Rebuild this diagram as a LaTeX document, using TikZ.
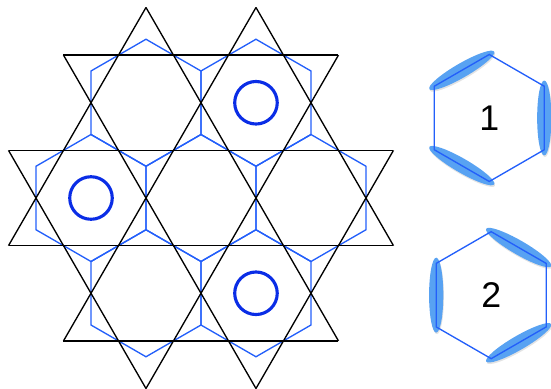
\documentclass[tikz,border=0pt]{standalone}
\usepackage{fontspec}
\setsansfont{Liberation Sans}
\definecolor{hexBlue}{RGB}{35,95,250}
\definecolor{ringBlue}{RGB}{10,45,230}
\definecolor{lobeBlue}{RGB}{88,162,242}
\usetikzlibrary{shadows}

\begin{document}
\begin{tikzpicture}[
    kagome/.style={draw=black, line width=0.6pt},
    hexEdge/.style={draw=hexBlue, line width=0.6pt, line join=miter},
    ring/.style={draw=ringBlue, line width=1.4pt},
    lobe/.style={fill=lobeBlue, draw=none,
                 drop shadow={opacity=0.22, shadow xshift=0.3pt, shadow yshift=-0.7pt}},
    numLabel/.style={font=\sffamily\fontsize{16}{16}\selectfont, inner sep=0pt}
  ]
  \useasboundingbox (-3.165,-2.992) rectangle (5.512,3.118);

  % honeycomb of blue hexagons
  \foreach \cx/\cy in {0/0, 1.732/0, -1.732/0, 0.866/1.5, -0.866/1.5, 0.866/-1.5, -0.866/-1.5}
    \draw[hexEdge, shift={(\cx,\cy)}] (90:1) -- (150:1) -- (210:1) -- (270:1) -- (330:1) -- (30:1) -- cycle;

  % kagome lines, three directions
  \foreach \a in {0,60,120}
    \foreach \d/\h in {0.75/3.031, -0.75/3.031, 2.25/2.165, -2.25/2.165}
      \draw[kagome, rotate=\a] (-\h,\d) -- (\h,\d);

  % rings
  \draw[ring] (0.866,1.5) circle (0.335);
  \draw[ring] (-1.732,0) circle (0.335);
  \draw[ring] (0.866,-1.5) circle (0.335);

  % the two single hexagons
  \coordinate (hexOne) at (4.54,1.26);
  \coordinate (hexTwo) at (4.57,-1.53);

  \begin{scope}[shift={(hexOne)}]
    \foreach \m in {0,120,240}
      \fill[lobe, rotate=\m] (0.866,0) ellipse (0.112 and 0.59);
    \draw[hexEdge] (90:1) -- (150:1) -- (210:1) -- (270:1) -- (330:1) -- (30:1) -- cycle;
  \end{scope}
  \node[numLabel] (one) at (hexOne) {1};

  \begin{scope}[shift={(hexTwo)}]
    \foreach \m in {60,180,300}
      \fill[lobe, rotate=\m] (0.866,0) ellipse (0.112 and 0.59);
    \draw[hexEdge] (90:1) -- (150:1) -- (210:1) -- (270:1) -- (330:1) -- (30:1) -- cycle;
  \end{scope}
  \node[numLabel] (two) at (hexTwo) {2};
\end{tikzpicture}
\end{document}
